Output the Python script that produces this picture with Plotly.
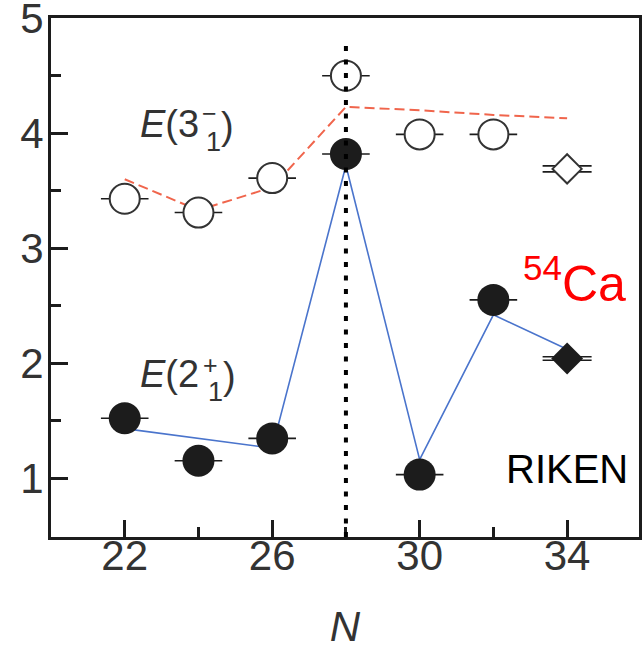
import plotly.graph_objects as go

# ---------------- data ----------------
N_exp = [22, 24, 26, 28, 30, 32]
E2_exp = [1.52, 1.15, 1.345, 3.82, 1.03, 2.55]
E3_exp = [3.43, 3.31, 3.61, 4.50, 3.99, 3.99]
N_new = [34]
E2_new = [2.04]
E3_new = [3.69]
N_th2 = [22, 26, 28, 30, 32, 34]
E2_th = [1.43, 1.26, 3.72, 1.16, 2.42, 2.12]
N_th3 = [22, 24, 26, 28, 30, 32, 34]
E3_th = [3.60, 3.33, 3.53, 4.23, 4.20, 4.16, 4.13]
x_major = [22, 26, 30, 34]
x_minor = [24, 28, 32]
y_major = [1, 2, 3, 4, 5]
y_minor = [1.5, 2.5, 3.5, 4.5]
magic_N = 28
magic_top = 4.77

# ---------------- layout geometry ----------------
W, H = 644, 650
ML, MR, MT, MB = 51, 5, 18, 113
PW, PH = W - ML - MR, H - MT - MB
XR = [20.0, 35.95]
YR = [0.487, 5.003]

def py2dy(px):
    """pixel distance -> data distance on y axis"""
    return px * (YR[1] - YR[0]) / PH

def pxp(px):
    return (px - ML) / PW

def pyp(py):
    return (MT + PH - py) / PH

INK = "#1c1c1c"
TXT = "#333333"
FONT = "Liberation Sans, Arial, sans-serif"

fig = go.Figure()

# theory lines
fig.add_trace(go.Scatter(x=N_th3, y=E3_th, mode="lines",
                         line=dict(color="#f0654c", width=2, dash="10px,5px"),
                         hoverinfo="skip", showlegend=False))
fig.add_trace(go.Scatter(x=N_th2, y=E2_th, mode="lines",
                         line=dict(color="#4a74cc", width=1.6),
                         hoverinfo="skip", showlegend=False))

# horizontal bars behind circles
fig.add_trace(go.Scatter(x=N_exp + N_exp, y=E2_exp + E3_exp, mode="markers",
                         marker=dict(symbol="line-ew", size=34,
                                     line=dict(color=INK, width=1.6)),
                         hoverinfo="skip", showlegend=False))
# double bars behind diamonds
d_f = py2dy(1.8)
d_o = py2dy(3.0)
fig.add_trace(go.Scatter(
    x=N_new * 4,
    y=[E2_new[0] + d_f, E2_new[0] - d_f, E3_new[0] + d_o, E3_new[0] - d_o],
    mode="markers",
    marker=dict(symbol="line-ew", size=35, line=dict(color=INK, width=1.6)),
    hoverinfo="skip", showlegend=False))

# open circles E(3-)
fig.add_trace(go.Scatter(x=N_exp, y=E3_exp, mode="markers",
                         marker=dict(symbol="circle", size=30, color="white",
                                     line=dict(color="#333333", width=2)),
                         hoverinfo="skip", showlegend=False))
# filled circles E(2+)
fig.add_trace(go.Scatter(x=N_exp, y=E2_exp, mode="markers",
                         marker=dict(symbol="circle", size=32, color=INK,
                                     line=dict(width=0)),
                         hoverinfo="skip", showlegend=False))
# diamonds (new data)
fig.add_trace(go.Scatter(x=N_new, y=E2_new, mode="markers",
                         marker=dict(symbol="diamond", size=24.5, color=INK,
                                     line=dict(width=0)),
                         hoverinfo="skip", showlegend=False))
fig.add_trace(go.Scatter(x=N_new, y=E3_new, mode="markers",
                         marker=dict(symbol="diamond", size=22.5, color="white",
                                     line=dict(color="#333333", width=2)),
                         hoverinfo="skip", showlegend=False))

# N = 28 dotted line
fig.add_shape(type="line", xref="x", yref="y", x0=magic_N, x1=magic_N,
              y0=YR[0], y1=magic_top, layer="above",
              line=dict(color="black", width=4, dash="5px,8.5px"))

axis_common = dict(showline=True, linecolor=INK, linewidth=3, mirror=True,
                   ticks="inside", tickwidth=3, tickcolor=INK, ticklen=17,
                   showgrid=False, zeroline=False, automargin=False,
                   ticklabeloverflow="allow",
                   tickfont=dict(family=FONT, size=42, color=TXT))

fig.update_xaxes(range=XR, tickvals=x_major, ticktext=[str(v) for v in x_major],
                 minor=dict(tickvals=x_minor, ticks="inside", ticklen=10,
                            tickwidth=3, tickcolor=INK),
                 ticklabelstandoff=-20,
                 title=dict(text="<i>N</i>", font=dict(family=FONT, size=42, color=TXT),
                            standoff=37),
                 **axis_common)
fig.update_yaxes(range=YR, tickvals=y_major, ticktext=[str(v) for v in y_major],
                 minor=dict(tickvals=y_minor, ticks="inside", ticklen=10,
                            tickwidth=3, tickcolor=INK),
                 ticklabelstandoff=-4,
                 **axis_common)

def ann(text, px, py, size, color=TXT, xanchor="left"):
    fig.add_annotation(text=text, xref="paper", yref="paper", x=pxp(px), y=pyp(py),
                       xanchor=xanchor, yanchor="middle", showarrow=False,
                       font=dict(family=FONT, size=size, color=color))

# E(3-1) label
ann("<i>E</i>(3", 201, 124, 38, xanchor="right")
ann("\u2212", 209, 113, 25, xanchor="center")
ann("1", 214, 142, 27, xanchor="center")
ann(")", 227, 126, 38, xanchor="center")
# E(2+1) label
ann("<i>E</i>(2", 201, 374, 38, xanchor="right")
ann("+", 210, 365, 25, xanchor="center")
ann("1", 215, 392, 27, xanchor="center")
ann(")", 229, 376, 38, xanchor="center")
# 54Ca
ann("<sup>54</sup>Ca", 521, 280, 50, color="#ff0000")
# RIKEN
ann("RIKEN", 504, 469, 40, color="black")

fig.update_layout(width=W, height=H, margin=dict(l=ML, r=MR, t=MT, b=MB),
                  plot_bgcolor="white", paper_bgcolor="white", showlegend=False)

fig.write_html("out.html")
